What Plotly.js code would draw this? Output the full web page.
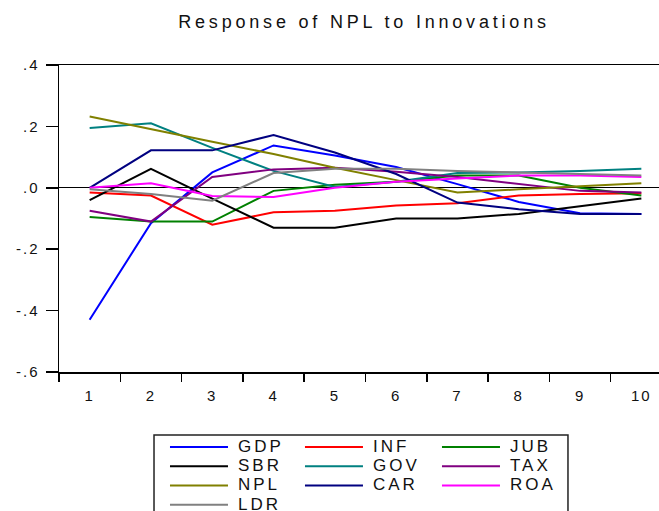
<!DOCTYPE html>
<html><head><meta charset="utf-8">
<script src="https://cdn.plot.ly/plotly-3.0.1.min.js"></script>
<style>
html,body{margin:0;padding:0;overflow:hidden;background:#fff;}
#chart{width:672px;height:511px;}
.gtitle{letter-spacing:3.8px;}
.xtick text,.ytick text{letter-spacing:2px;}
.legendtext,.legend2text,.legend3text{font-size:17px !important;letter-spacing:3px;transform:translate(5px,0px);}
</style>
</head><body><div id="chart"></div>
<script>
// Periods (x categories)
const periods = ['1','2','3','4','5','6','7','8','9','10'];
// Responses of NPL to innovations in each variable
const GDP = [-0.43, -0.115, 0.05, 0.138, 0.105, 0.068, 0.012, -0.046, -0.083, -0.085];
const INF = [-0.015, -0.025, -0.12, -0.08, -0.075, -0.058, -0.05, -0.025, -0.02, -0.018];
const JUB = [-0.095, -0.11, -0.11, -0.01, 0.01, 0.02, 0.04, 0.04, 0.0, -0.025];
const SBR = [-0.04, 0.062, -0.035, -0.13, -0.13, -0.1, -0.1, -0.085, -0.06, -0.035];
const GOV = [0.195, 0.21, 0.13, 0.055, 0.003, 0.02, 0.048, 0.05, 0.055, 0.062];
const TAX = [-0.075, -0.11, 0.035, 0.06, 0.065, 0.052, 0.035, 0.012, -0.01, -0.015];
const NPL = [0.232, 0.19, 0.15, 0.11, 0.065, 0.025, -0.015, -0.005, 0.005, 0.015];
const CAR = [0.0, 0.122, 0.122, 0.172, 0.115, 0.045, -0.048, -0.07, -0.085, -0.085];
const ROA = [0.0, 0.015, -0.027, -0.03, 0.0, 0.02, 0.03, 0.04, 0.04, 0.035];
const LDR = [-0.005, -0.02, -0.042, 0.048, 0.062, 0.062, 0.055, 0.05, 0.045, 0.04];
// Y tick values and labels
const yTickVals = [-0.6, -0.4, -0.2, 0.0, 0.2, 0.4];
const yTickText = ['-.6', '-.4', '-.2', '.0', '.2', '.4'];

const FONT = 'Liberation Sans, Arial, sans-serif';

function tr(name, y, color, legend) {
  return {x: periods, y: y, name: name, type: 'scatter', mode: 'lines',
          line: {color: color, width: 2}, legend: legend};
}

const data = [
  tr('GDP', GDP, '#0000FF', 'legend'),
  tr('INF', INF, '#FF0000', 'legend2'),
  tr('JUB', JUB, '#008000', 'legend3'),
  tr('SBR', SBR, '#000000', 'legend'),
  tr('GOV', GOV, '#008080', 'legend2'),
  tr('TAX', TAX, '#800080', 'legend3'),
  tr('NPL', NPL, '#808000', 'legend'),
  tr('CAR', CAR, '#000080', 'legend2'),
  tr('ROA', ROA, '#FF00FF', 'legend3'),
  tr('LDR', LDR, '#808080', 'legend')
];

function leg(x) {
  return {x: x, y: -0.1967, xanchor: 'left', yanchor: 'top', orientation: 'v',
          bgcolor: 'rgba(0,0,0,0)', borderwidth: 0, itemwidth: 58,
          font: {family: FONT, size: 12.5, color: '#111'}, traceorder: 'normal'};
}

const layout = {
  width: 672, height: 511,
  margin: {l: 59, r: 0, t: 65, b: 139, autoexpand: false},
  paper_bgcolor: '#fff', plot_bgcolor: '#fff',
  font: {family: FONT, color: '#111'},
  showlegend: true,
  title: {text: 'Response of NPL to Innovations', font: {family: FONT, size: 18, color: '#111'},
          x: 364/672, xref: 'container', xanchor: 'center', y: 1 - 22/511, yref: 'container', yanchor: 'middle'},
  xaxis: {type: 'category', range: [-0.5, 9.5], tickson: 'boundaries', ticks: 'outside', ticklen: 8,
          tickwidth: 1.5, tickcolor: '#000', showgrid: false, zeroline: false,
          showline: true, linecolor: '#000', linewidth: 1.5, mirror: true, ticklabelstandoff: 9,
          tickfont: {family: FONT, size: 15, color: '#111'}},
  yaxis: {range: [-0.6, 0.4], tickmode: 'array', tickvals: yTickVals, ticktext: yTickText,
          ticks: 'outside', ticklen: 12, tickwidth: 1.5, tickcolor: '#000', showgrid: false,
          zeroline: true, zerolinecolor: '#000', zerolinewidth: 1, ticklabelstandoff: 3,
          showline: true, linecolor: '#000', linewidth: 1.5, mirror: true,
          tickfont: {family: FONT, size: 15, color: '#111'}},
  legend: leg(0.1729),
  legend2: leg(0.3931),
  legend3: leg(0.6166),
  shapes: [{type: 'rect', xref: 'paper', yref: 'paper', x0: 0.155, x1: 0.8303, y0: -0.2052, y1: -0.6,
            line: {color: '#222', width: 1.5}, fillcolor: 'rgba(0,0,0,0)'}]
};

Plotly.newPlot('chart', data, layout, {displayModeBar: false, staticPlot: true});
</script>
</body></html>
